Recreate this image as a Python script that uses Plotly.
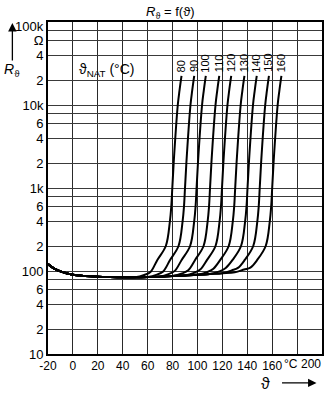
import math
import plotly.graph_objects as go

# ---- data ----
NAT = [80, 90, 100, 110, 120, 130, 140, 150, 160]

# common low-temperature branch (°C, ohm)
BASE_T = [-20, -15, -10, -5, 0, 10, 20, 30, 40, 50, 60, 70, 80, 90, 100, 110, 120, 130, 140]
BASE_R = [121, 107, 99, 94, 90, 87, 85.3, 84.5, 84, 84, 84.5, 85.5, 87, 88.5, 90, 92, 94, 96.5, 99]

# rising branch of each curve (°C)
RISE_T = {
    80:  [57.3, 62.3, 67.8, 74.6, 77.9, 79.0, 79.8, 80.9, 84.2, 85.6, 87.2],
    90:  [67.5, 72.5, 78.0, 84.8, 88.1, 89.2, 90.0, 91.1, 94.4, 95.8, 97.4],
    100: [76.8, 81.8, 87.3, 94.1, 97.4, 98.5, 99.3, 100.4, 103.7, 105.1, 106.7],
    110: [87.6, 92.6, 98.1, 104.9, 108.2, 109.3, 110.1, 111.2, 114.5, 115.9, 117.5],
    120: [97.2, 102.2, 107.7, 114.5, 117.8, 118.9, 119.7, 120.8, 124.1, 125.5, 127.1],
    130: [107.8, 112.8, 118.3, 125.1, 128.4, 129.5, 130.3, 131.4, 134.7, 136.1, 137.7],
    140: [117.7, 122.7, 128.2, 135.0, 138.3, 139.4, 140.2, 141.3, 144.6, 146.0, 147.6],
    150: [127.5, 132.5, 138.0, 144.8, 148.1, 149.2, 150.0, 151.1, 154.4, 155.8, 157.4],
    160: [137.5, 142.5, 148.0, 154.8, 158.1, 159.2, 160.0, 161.1, 164.4, 165.8, 167.4],
}
# rising branch resistances (ohm)
RISE_R = {
    80:  [89.5, 97.4, 136, 200, 400, 600, 1000, 2000, 10000, 15000, 22400],
    90:  [90.4, 98.8, 136, 200, 400, 600, 1000, 2000, 10000, 15000, 22400],
    100: [91.7, 100.4, 136, 200, 400, 600, 1000, 2000, 10000, 15000, 22400],
    110: [93.4, 102.2, 136, 200, 400, 600, 1000, 2000, 10000, 15000, 22400],
    120: [95.0, 104.0, 136, 200, 400, 600, 1000, 2000, 10000, 15000, 22400],
    130: [97.1, 106.5, 136, 200, 400, 600, 1000, 2000, 10000, 15000, 22400],
    140: [99.1, 108.9, 136, 200, 400, 600, 1000, 2000, 10000, 15000, 22400],
    150: [101.7, 109.0, 136, 200, 400, 600, 1000, 2000, 10000, 15000, 22400],
    160: [104.3, 110.0, 136, 200, 400, 600, 1000, 2000, 10000, 15000, 22400],
}

X_TICKS = [-20, 0, 20, 40, 60, 80, 100, 120, 140, 160, 180, 200]
X_TEXT = ["-20", "0", "20", "40", "60", "80", "100", "120", "140", "160", "", ""]
Y_TICKS = [10, 20, 40, 60, 80, 100, 200, 400, 600, 800, 1000, 2000, 4000, 6000, 8000,
           10000, 20000, 40000, 60000, 80000]
Y_TEXT = ["10", "2", "4", "6", "", "100", "2", "4", "6", "", "1k", "2", "4", "6", "",
          "10k", "2", "4", "Ω", ""]

FONT = "Liberation Sans Narrow, Arial Narrow, Liberation Sans, sans-serif"

fig = go.Figure()
for n in NAT:
    rt, rr = RISE_T[n], RISE_R[n]
    base = [(t, r) for t, r in zip(BASE_T, BASE_R) if t <= rt[0] - 4]
    xs = [p[0] for p in base] + rt
    ys = [p[1] for p in base] + rr
    fig.add_trace(go.Scatter(x=xs, y=ys, mode="lines",
                             line=dict(color="black", width=2, shape="spline", smoothing=1.0),
                             hoverinfo="skip", showlegend=False))
    fig.add_annotation(x=rt[-1] - 0.3, y=math.log10(rr[-1]) + 0.02, xref="x", yref="y",
                       text=str(n), textangle=-90, showarrow=False,
                       xanchor="center", yanchor="bottom",
                       font=dict(family=FONT, size=11, color="black"))

fig.update_xaxes(range=[-20, 200], tickvals=X_TICKS, ticktext=X_TEXT, tickangle=0,
                 showgrid=True, gridcolor="#2a2a2a", gridwidth=1,
                 showline=True, linecolor="black", linewidth=2, mirror=True,
                 ticks="", zeroline=False,
                 tickfont=dict(family=FONT, size=12, color="black"))
fig.update_yaxes(type="log", range=[1, 5], tickvals=Y_TICKS, ticktext=Y_TEXT,
                 showgrid=True, gridcolor="#3a3a3a", gridwidth=1,
                 showline=True, linecolor="black", linewidth=2, mirror=True,
                 ticks="", zeroline=False,
                 tickfont=dict(family=FONT, size=13, color="black"))

# x tick labels that sit left of their grid line in the reference
fig.add_annotation(x=180, xref="x", y=0, yref="paper", text="°C", showarrow=False,
                   xanchor="center", yanchor="top", xshift=-6, yshift=-1,
                   font=dict(family=FONT, size=12, color="black"))
fig.add_annotation(x=200, xref="x", y=0, yref="paper", text="200", showarrow=False,
                   xanchor="right", yanchor="top", xshift=1, yshift=-1,
                   font=dict(family=FONT, size=12, color="black"))
# 100k label at top
fig.add_annotation(x=0, xref="paper", y=5, yref="y", text="100k", showarrow=False,
                   xanchor="right", yanchor="middle", xshift=-2, yshift=-4,
                   font=dict(family=FONT, size=13, color="black"))
# title
fig.add_annotation(x=0.447, xref="paper", y=1.03, yref="paper",
                   text="<i>R</i><sub>ϑ</sub> = f(ϑ)", showarrow=False,
                   xanchor="center", yanchor="middle",
                   font=dict(family=FONT, size=13, color="black"))
# NAT legend text
fig.add_annotation(x=0.105, xref="paper", y=0.855, yref="paper",
                   text="ϑ<sub>NAT</sub> (°C)", showarrow=False,
                   xanchor="left", yanchor="middle",
                   font=dict(family=FONT, size=14, color="black"))
# y-axis label + arrow
fig.add_annotation(x=-0.13, xref="paper", y=0.855, yref="paper",
                   text="<i>R</i><sub>ϑ</sub>", showarrow=False,
                   xanchor="center", yanchor="middle",
                   font=dict(family=FONT, size=14, color="black"))
fig.add_annotation(x=-0.13, xref="paper", y=0.997, yref="paper", text="",
                   showarrow=True, ax=0, ay=39, arrowhead=2, arrowsize=1.3,
                   arrowwidth=1.3, arrowcolor="black")
# x-axis label + arrow
fig.add_annotation(x=0.795, xref="paper", y=-0.088, yref="paper",
                   text="ϑ", showarrow=False, xanchor="center", yanchor="middle",
                   font=dict(family=FONT, size=16, color="black"))
fig.add_annotation(x=0.98, xref="paper", y=-0.087, yref="paper", text="",
                   showarrow=True, ax=-36, ay=0, arrowhead=2, arrowsize=1.3,
                   arrowwidth=1.3, arrowcolor="black")

fig.update_layout(width=329, height=397,
                  margin=dict(l=48, r=5, t=22, b=43),
                  paper_bgcolor="white", plot_bgcolor="white",
                  showlegend=False)
fig.write_html("out.html")
